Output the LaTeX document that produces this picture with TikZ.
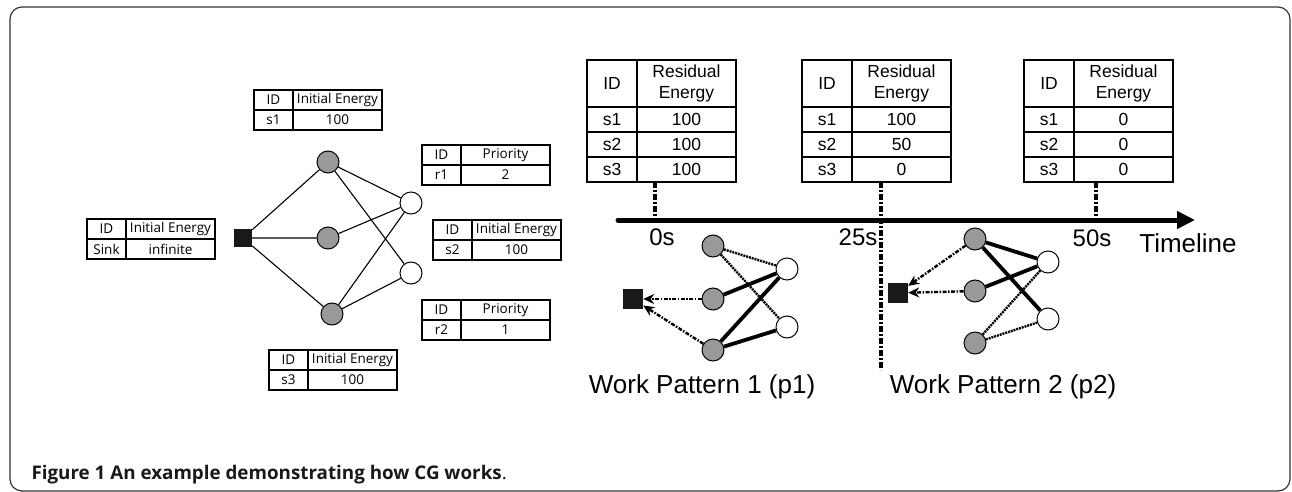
\documentclass[tikz,border=0pt]{standalone}
\usepackage{fontspec}
\setmainfont{Liberation Sans}
\newfontfamily\myriad{Open Sans}
\usetikzlibrary{arrows.meta,positioning}

\newcommand\infotab[5]{%
  \node[cell,minimum width=39,anchor=north west] (#1id) at (#2) {ID};
  \node[cell,minimum width=89,right=0pt of #1id] (#1hd) {#3};
  \node[cell,minimum width=39,below=0pt of #1id] (#1key) {#4};
  \node[cell,minimum width=89,below=0pt of #1hd] (#1val) {#5};}

\newcommand\restab[5]{%
  \node[rcell,minimum width=50,minimum height=47,anchor=north west] (#1id) at (#2) {ID};
  \node[rcell,minimum width=99,minimum height=47,right=0pt of #1id] (#1hd) {Residual\\Energy};
  \node[rcell,minimum width=50,below=0pt of #1id] (#1a) {s1};
  \node[rcell,minimum width=99,below=0pt of #1hd] (#1va) {#3};
  \node[rcell,minimum width=50,below=0pt of #1a] (#1b) {s2};
  \node[rcell,minimum width=99,below=0pt of #1va] (#1vb) {#4};
  \node[rcell,minimum width=50,below=0pt of #1b] (#1c) {s3};
  \node[rcell,minimum width=99,below=0pt of #1vb] (#1vc) {#5};}

\begin{document}
\begin{tikzpicture}[x=1pt,y=-1pt,>={Stealth[length=11pt,width=10pt]},
    cell/.style={draw,minimum height=20,inner sep=0,outer sep=0,line width=1.1pt,
      font=\myriad\fontsize{13.5}{15}\selectfont},
    rcell/.style={draw,minimum height=25,inner sep=0,outer sep=0,line width=1.1pt,
      align=center,font=\fontsize{17.5}{21}\selectfont},
    sensor/.style={circle,draw,fill=black!40,minimum size=22,inner sep=0,line width=1pt},
    target/.style={circle,draw,fill=white,minimum size=22,inner sep=0,line width=1pt},
    sink/.style={rectangle,fill=black!90,minimum size=18,inner sep=0},
    link/.style={line width=1.1pt},
    active/.style={line width=3.8pt},
    idle/.style={line width=2.4pt,dash pattern=on 2pt off 0.9pt},
    report/.style={->,line width=2.4pt,dash pattern=on 4pt off 1.5pt on 1.5pt off 1.5pt},
    tick/.style={line width=3.5pt,dash pattern=on 6pt off 2pt on 2pt off 2pt},
    big/.style={font=\fontsize{24}{26}\selectfont}]
  \useasboundingbox (0,0) rectangle (1292,492);
  \draw[black!80,line width=1.2pt,rounded corners=12] (10,7) rectangle (1290,491);

  % initial network
  \node[sink] (sink) at (243,238) {};
  \node[sensor] (s1) at (328,162) {};
  \node[sensor] (s2) at (328,238) {};
  \node[sensor] (s3) at (332,314) {};
  \node[target] (r1) at (411,203) {};
  \node[target] (r2) at (411,273) {};
  \draw[link] (sink) -- (s1) (sink) -- (s2) (sink) -- (s3)
              (s1) -- (r1) (s1) -- (r2) (s2) -- (r1) (s3) -- (r1) (s3) -- (r2);

  \infotab{ts1}{254,90}{Initial Energy}{s1}{100}
  \infotab{tsink}{87,219}{Initial Energy}{Sink}{infinite}
  \infotab{ts3}{269,350}{Initial Energy}{s3}{100}
  \infotab{tr1}{422,145}{Priority}{r1}{2}
  \infotab{ts2}{433,220}{Initial Energy}{s2}{100}
  \infotab{tr2}{422,300}{Priority}{r2}{1}

  % timeline
  \restab{ta}{587,60}{100}{100}{100}
  \restab{tb}{802,60}{100}{50}{0}
  \restab{tc}{1024,60}{0}{0}{0}

  \coordinate (tl0) at (618,220);
  \coordinate (tl1) at (1195,220);
  \coordinate (c0) at (655,220);
  \coordinate (c25) at (881,220);
  \coordinate (c25end) at (881,370);
  \coordinate (c50) at (1096,220);
  \draw[line width=5pt,line cap=round,-{Triangle[length=18pt,width=17pt]}] (tl0) -- (tl1);
  \draw[tick] (c0 |- tac.south) -- (c0);
  \draw[tick] (c25 |- tbc.south) -- (c25end);
  \draw[tick] (c50 |- tcc.south) -- (c50);

  \node[big] (l0) at (662,237) {0s};
  \node[big] (l25) at (858,237) {25s};
  \node[big] (l50) at (1092,238) {50s};
  \node[font=\fontsize{26}{28}\selectfont] (tline) at (1188,243) {Timeline};

  % work pattern 1
  \node[sink,minimum size=20] (p1sink) at (633,299) {};
  \node[sensor] (p1s1) at (713,246) {};
  \node[sensor] (p1s2) at (713,299) {};
  \node[sensor] (p1s3) at (713,350) {};
  \node[target] (p1r1) at (787,269) {};
  \node[target] (p1r2) at (787,327) {};
  \draw[idle] (p1s1) -- (p1r1) (p1s1) -- (p1r2);
  \draw[active] (p1s2) -- (p1r1) (p1s3) -- (p1r1) (p1s3) -- (p1r2);
  \draw[report] (p1s2) -- (p1sink);
  \draw[report] (p1s3) -- (p1sink);
  \node[font=\fontsize{26}{28}\selectfont,anchor=base] (wp1) at (702,393) {Work Pattern 1 (p1)};

  % work pattern 2
  \node[sink,minimum size=20] (p2sink) at (898,293) {};
  \node[sensor] (p2s1) at (975,239) {};
  \node[sensor] (p2s2) at (975,291) {};
  \node[sensor] (p2s3) at (975,343) {};
  \node[target] (p2r1) at (1048,262) {};
  \node[target] (p2r2) at (1048,319) {};
  \draw[active] (p2s1) -- (p2r1) (p2s1) -- (p2r2) (p2s2) -- (p2r1);
  \draw[idle] (p2s3) -- (p2r1) (p2s3) -- (p2r2);
  \draw[report] (p2s1) -- (p2sink);
  \draw[report] (p2s2) -- (p2sink);
  \node[font=\fontsize{26}{28}\selectfont,anchor=base] (wp2) at (1003,393) {Work Pattern 2 (p2)};

  \node[anchor=base west,text=black!90,font=\myriad\fontsize{18.8}{21}\selectfont] (cap) at (28,479)
    {\textbf{Figure 1 An example demonstrating how CG works}.};
\end{tikzpicture}
\end{document}
